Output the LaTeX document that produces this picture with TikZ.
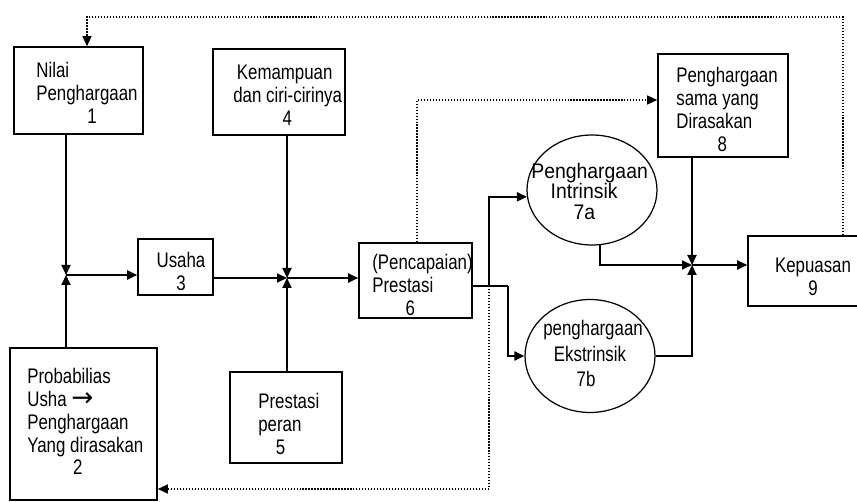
\documentclass[tikz,border=0pt]{standalone}
\usepackage{fontspec}
\setmainfont{Liberation Sans}[FakeStretch=0.8]
\newfontfamily\widefont{Liberation Sans}[FakeStretch=0.92]
\newfontfamily\arrowfont{DejaVu Sans}
\usetikzlibrary{arrows.meta,fit,shapes.geometric}
\begin{document}
\begin{tikzpicture}[x=0.02cm,y=-0.02cm,
  box/.style={draw, line width=0.9pt, inner sep=0pt, rectangle},
  oval/.style={draw, line width=0.7pt, ellipse, inner sep=0pt},
  txt/.style={inner sep=0pt, align=left, font=\fontsize{12}{13}\selectfont},
  ctxt/.style={inner sep=0pt, align=center, font=\fontsize{12}{13}\selectfont},
  conn/.style={line width=1.1pt},
  dots/.style={line width=0.7pt, densely dotted},
  tip/.style={-{Triangle[length=2mm,width=1.8mm]}},
]
\useasboundingbox (0,0) rectangle (857,502);
\fill[white] (0,0) rectangle (857,502);

% boxes
\node[box, fit={(14,47) (143,134)}] (b1) {};
\node[box, fit={(10,348) (157,500)}] (b2) {};
\node[box, fit={(138,239) (213,295)}] (b3) {};
\node[box, fit={(213,49) (345,135)}] (b4) {};
\node[box, fit={(230,372) (342,463)}] (b5) {};
\node[box, fit={(359,243) (472,318)}] (b6) {};
\node[box, fit={(658,54) (788,157)}] (b8) {};
\node[box, fit={(748,236) (875,306)}] (b9) {};
\node[oval, minimum width=2.6cm, minimum height=2.2cm] (e7a) at (592,190) {};
\node[oval, minimum width=2.6cm, minimum height=2.26cm] (e7b) at (590,356) {};

% texts
\node[txt, anchor=north west] (t1) at (36,62) {Nilai\\Penghargaan\\\hspace*{29pt}1};
\node[txt, anchor=north west] (t2) at (27,368) {Probabilias\\Usha {\arrowfont\fontsize{15}{13}\selectfont →}\\Penghargaan\\Yang dirasakan\\\hspace*{26pt}2};
\node[ctxt, anchor=north] (t3) at (181,252) {Usaha\\3};
\node[txt, anchor=north west] (t4) at (233,65) {\hspace*{2pt}Kemampuan\\dan ciri-cirinya\\\hspace*{28pt}4};
\node[txt, anchor=north west] (t5) at (258,393) {Prestasi\\peran\\\hspace*{10pt}5};
\node[txt, anchor=north west] (t6) at (372,254) {(Pencapaian)\\Prestasi\\\hspace*{19pt}6};
\node[txt, anchor=north west, font=\widefont\fontsize{12}{11.5}\selectfont] (t7a) at (531,163) {Penghargaan\\\hspace*{11pt}Intrinsik\\\hspace*{24pt}7a};
\node[txt, anchor=north west, font=\fontsize{12}{14.5}\selectfont] (t7b) at (543,320) {penghargaan\\\hspace*{6pt}Ekstrinsik\\\hspace*{19pt}7b};
\node[txt, anchor=north west] (t8) at (676,67) {Penghargaan\\sama yang\\Dirasakan\\\hspace*{23.5pt}8};
\node[ctxt, anchor=north] (t9) at (813,258) {Kepuasan\\9};

% junctions
\coordinate (J1) at (66,275);
\coordinate (J2) at (287,278);
\coordinate (J3) at (692,265);
\coordinate (S6) at (489,286);
\coordinate (R7) at (508,286);
\coordinate (D2) at (489,489);
\coordinate (D8) at (417,100);
\coordinate (T9) at (843,17);
\coordinate (T1) at (87,17);

% solid connectors
\draw[conn,tip] (b1.south -| J1) -- (J1);
\draw[conn,tip] (b2.north -| J1) -- (J1);
\draw[conn,tip] (J1) -- (J1 -| b3.west);
\draw[conn,tip] (b3.east |- J2) -- (J2);
\draw[conn,tip] (b4.south -| J2) -- (J2);
\draw[conn,tip] (b5.north -| J2) -- (J2);
\draw[conn,tip] (J2) -- (J2 -| b6.west);
\draw[conn] (b6.east |- S6) -- (S6);
\draw[conn,tip] (S6) |- (e7a.186);
\draw[conn] (S6) -- (R7);
\draw[conn,tip] (R7) |- (e7b.west);
\draw[conn,tip] (e7a.-82) |- (J3);
\draw[conn,tip] (e7b.east) -| (J3);
\draw[conn,tip] (b8.south -| J3) -- (J3);
\draw[conn,tip] (J3) -- (J3 -| b9.west);

% dotted connectors
\draw[dots,tip] (S6) -- (D2) -- (D2 -| b2.east);
\draw[dots,tip] (b6.north -| D8) -- (D8) -- (D8 -| b8.west);
\draw[dots,tip] (b9.north -| T9) -- (T9) -- (T1) -- (T1 |- b1.north);
\end{tikzpicture}
\end{document}
